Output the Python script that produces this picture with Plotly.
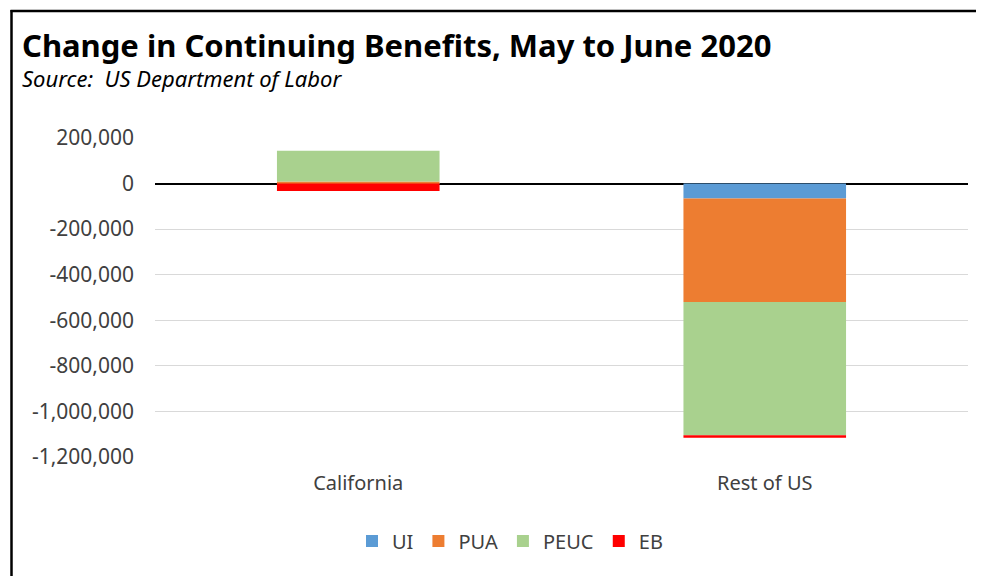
import plotly.graph_objects as go

categories = ["California", "Rest of US"]
ui = [1000, -66000]
pua = [8000, -454000]
peuc = [135000, -584000]
eb = [-33000, -12000]

series_names = ["UI", "PUA", "PEUC", "EB"]
series_colors = ["#5B9BD5", "#ED7D31", "#A9D18E", "#FF0000"]
tick_vals = [200000, 0, -200000, -400000, -600000, -800000, -1000000, -1200000]
tick_text = ["200,000", "0", "-200,000", "-400,000", "-600,000", "-800,000", "-1,000,000", "-1,200,000"]

FONT = "Noto Sans"
TXT = "#404040"

fig = go.Figure()
for name, vals, col in zip(series_names, [ui, pua, peuc, eb], series_colors):
    fig.add_trace(go.Bar(x=categories, y=vals, name=name, marker=dict(color=col, line=dict(width=0))))

OFF = 8  # page body margin
W, H = 984 - OFF, 576 - OFF
L, R, T, B = 155 - OFF, W + OFF - 968, 138 - OFF, H + OFF - 457
pw, ph = W - L - R, H - T - B

def px(x):
    return (x - OFF - L) / pw

def py(y):
    return (H - B - (y - OFF)) / ph

border = dict(color="black", width=2.5)

fig.update_layout(
    width=W, height=H,
    barmode="relative",
    bargap=0.6,
    margin=dict(l=L, r=R, t=T, b=B, pad=0),
    paper_bgcolor="white",
    plot_bgcolor="white",
    font=dict(family=FONT, size=20, color=TXT),
    showlegend=True,
    legend=dict(orientation="h", x=px(510), xanchor="center", y=py(541), yanchor="middle",
                traceorder="normal", font=dict(size=20, color=TXT), itemwidth=30),
    xaxis=dict(showgrid=False, showline=False, ticks="", tickfont=dict(size=20, color=TXT),
               ticklabelstandoff=12),
    yaxis=dict(range=[-1200000, 200000], tickvals=tick_vals, ticktext=tick_text,
               showgrid=True, gridcolor="#D9D9D9", gridwidth=1,
               zeroline=True, zerolinecolor="black", zerolinewidth=2,
               showline=False, ticks="", ticklabelstandoff=20,
               tickfont=dict(size=21, color=TXT)),
    shapes=[
        dict(type="line", xref="paper", yref="paper", x0=px(10.5), x1=px(1000), y0=py(11), y1=py(11),
             line=border, layer="above"),
        dict(type="line", xref="paper", yref="paper", x0=px(11.5), x1=px(11.5), y0=py(10), y1=py(600),
             line=border, layer="above"),
    ],
    annotations=[
        dict(text="<b>Change in Continuing Benefits, May to June 2020</b>", xref="paper", yref="paper",
             x=px(20), y=py(45), xanchor="left", yanchor="middle", showarrow=False,
             font=dict(family=FONT, size=31, color="black")),
        dict(text="<i>Source:  US Department of Labor</i>", xref="paper", yref="paper",
             x=px(20), y=py(78), xanchor="left", yanchor="middle", showarrow=False,
             font=dict(family=FONT, size=22, color="black")),
    ],
)

fig.write_html("out.html")
